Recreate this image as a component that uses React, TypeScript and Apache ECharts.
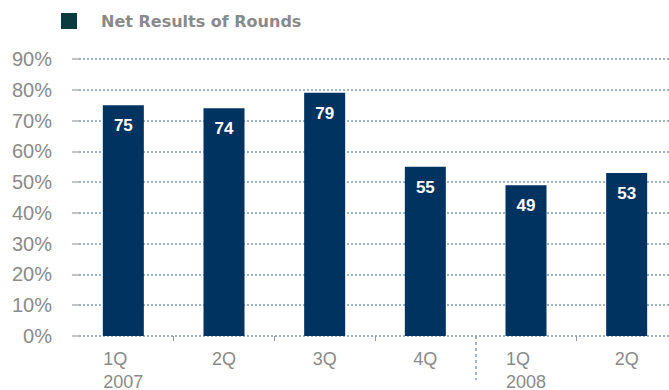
import React, { useEffect, useRef } from "react";
import * as echarts from "echarts";

const quarters = ["1Q", "2Q", "3Q", "4Q", "1Q", "2Q"];
const years = ["2007", "", "", "", "2008", ""];
const categories = ["2007 1Q", "2007 2Q", "2007 3Q", "2007 4Q", "2008 1Q", "2008 2Q"];
const values = [75, 74, 79, 55, 49, 53];
const seriesName = "Net Results of Rounds";

const GRAY = "#8a8a8a";
const AXIS_FONT = "Liberation Sans";

export default function App() {
  const ref = useRef<HTMLDivElement>(null);
  useEffect(() => {
    if (!ref.current) return;
    const chart = echarts.init(ref.current, null, { renderer: "svg" });
    const labelStyle = { color: GRAY, fontSize: 18, fontFamily: AXIS_FONT, lineHeight: 23 };
    const band = 604 / categories.length;
    const g = { top: 59, bottom: 54, outerBoundsMode: "none", containLabel: false };
    chart.setOption({
      animation: false,
      legend: {
        data: [{ name: seriesName, itemStyle: { color: "#0b3b3c" } }],
        left: 56,
        top: 8,
        icon: "rect",
        itemWidth: 16,
        itemHeight: 16,
        selectedMode: false,
        textStyle: {
          color: GRAY,
          fontWeight: "bold",
          fontSize: 16,
          fontFamily: "DejaVu Sans",
          padding: [0, 0, 0, 19],
        },
      },
      grid: [
        { ...g, left: 79, right: 8 },
        { ...g, left: 73, right: 0 },
        { ...g, left: 73 + band / 2, right: -band / 2 },
      ],
      yAxis: [
        {
          gridIndex: 0,
          type: "value",
          min: 0,
          max: 90,
          interval: 10,
          offset: 8,
          axisLine: { show: false },
          axisTick: { show: true, length: 7, lineStyle: { color: "#b0b0b0", width: 1.5 } },
          axisLabel: { formatter: "{value}%", margin: 19, color: GRAY, fontSize: 20, fontFamily: AXIS_FONT },
          splitLine: { lineStyle: { type: [2, 2], color: "#7f9db6", width: 1.5 } },
        },
        { gridIndex: 1, type: "value", min: 0, max: 90, show: false },
        { gridIndex: 2, type: "value", min: 0, max: 90, show: false },
      ],
      xAxis: [
        { gridIndex: 0, type: "value", show: false },
        {
          gridIndex: 1,
          type: "category",
          data: categories,
          axisLine: { show: false },
          axisTick: {
            show: true,
            length: 5,
            interval: (i: number) => i >= 1 && i <= 5 && i !== 4,
            lineStyle: { color: "#999999", width: 1 },
          },
          axisLabel: {
            margin: 11,
            interval: 0,
            formatter: (_v: string, i: number) =>
              years[i]
                ? `{q|${quarters[i]}}\n{q|${years[i]}}`
                : `{s|${quarters[i]}}`,
            rich: {
              q: { ...labelStyle, width: 40, align: "left" },
              s: { ...labelStyle },
            },
          },
        },
        {
          gridIndex: 2,
          type: "category",
          data: categories,
          axisLine: { show: false },
          axisTick: {
            show: true,
            length: 44,
            alignWithLabel: true,
            interval: (i: number) => i === 3,
            lineStyle: { color: "#7f9db6", width: 1.5, type: [3, 3] },
          },
          axisLabel: { show: false },
        },
      ],
      series: [
        {
          name: seriesName,
          type: "bar",
          xAxisIndex: 1,
          yAxisIndex: 1,
          data: values,
          barWidth: 41,
          itemStyle: { color: "#00335f" },
          label: {
            show: true,
            position: "insideTop",
            distance: 12,
            color: "#ffffff",
            fontWeight: "bold",
            fontSize: 17,
            fontFamily: AXIS_FONT,
          },
        },
      ],
    });
    return () => chart.dispose();
  }, []);
  return (
    <div style={{ position: "fixed", left: 0, top: 0, width: 669, height: 390, overflow: "hidden", background: "#fff" }}>
      <div ref={ref} style={{ width: 677, height: 390 }} />
    </div>
  );
}
